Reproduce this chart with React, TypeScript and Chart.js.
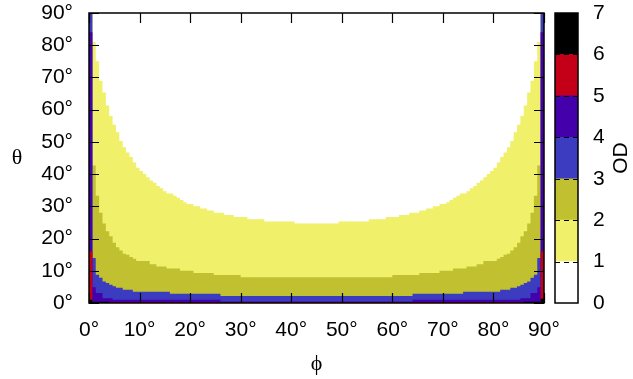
import React, { useEffect, useRef } from "react";
import { Chart, registerables } from "chart.js";
Chart.register(...registerables);

// Boundary contours (theta in degrees) of the OD bands, read column-by-column.
// Each phi value is the left edge of a cell; the theta value holds until the next phi.
const phiOD1 = [0,0.67,1.33,2,2.67,3.33,4,4.67,5.33,6,6.67,7.33,8,8.67,9.33,10,10.67,11.33,12,12.67,13.33,14,14.67,15.33,16.67,17.33,18,18.67,19.33,20.67,22,23.33,24.67,26.67,28.67,31.33,34.67,40.67,49.33,55.33,58.67,61.33,63.33,65.33,66.67,68,69.33,70.67,71.33,72,72.67,73.33,74.67,75.33,76,76.67,77.33,78,78.67,79.33,80,80.67,81.33,82,82.67,83.33,84,84.67,85.33,86,86.67,87.33,88,88.67,89.33,90];
const thetaOD1 = [90,81,75,69,65.3,61.3,58,55.3,53,50.3,48.3,46.7,45.3,43.6,42,41,40,39,38,37.3,36.3,35.6,34.7,34,33.3,32.7,32,31.3,30.7,30,29.3,28.7,28,27.3,26.7,26,25.3,24.7,25.3,26,26.7,27.3,28,28.7,29.3,30,30.7,31.3,32,32.7,33.3,34,34.7,35.6,36.3,37.3,38,39,40,41,42,43.6,45.3,46.7,48.3,50.3,53,55.3,58,61.3,65.3,69,75,81,90,90];

const phiOD2 = [0,0.67,1.33,2,2.67,3.33,4,4.67,5.33,6,6.67,7.33,8,8.67,9.33,12,13.33,15.33,18,20.67,24.67,30,60,65.33,69.33,72,74.67,76.67,78,80.67,81.33,82,82.67,83.33,84,84.67,85.33,86,86.67,87.33,88,88.67,89.33,90];
const thetaOD2 = [90,42.7,33.3,28,24.7,22.3,20.7,18.7,17.3,16.3,15.3,15,14.3,13.7,13,12,11.3,10.7,10,9.3,8.7,8,8.7,9.3,10,10.7,11.3,12,13,13.7,14.3,15,15.3,16.3,17.3,18.7,20.7,22.3,24.7,28,33.3,42.7,90,90];

const phiOD3 = [0,0.67,1.33,2,2.67,3.33,4,4.67,5.33,6.67,8.67,16,26,64,74,81.33,83.33,84.67,85.33,86,86.67,87.33,88,88.67,89.33,90];
const thetaOD3 = [90,14,8.8,7.8,6.7,6.2,5.7,5.2,4.7,4.1,3.5,2.9,2.2,2.9,3.5,4.1,4.7,5.2,5.7,6.2,6.7,7.8,8.8,14,90,90];

const phiOD4 = [0,0.67,1.33,2.67,4.67,26,64,85.33,87.33,88.67,89.33,90];
const thetaOD4 = [84,4.9,3.1,1.5,1.0,0.5,1.0,1.5,3.1,4.9,84,84];

const phiOD5 = [0,0.67,89.33,90];
const thetaOD5 = [16,0.3,16,16];

const phiOD6 = [0,0.67,4,86,89.33,90];
const thetaOD6 = [1.0,0.4,0,0.4,1.3,1.3];

// Colour bar levels
const odLevels = [0,1,2,3,4,5,6,7];
const levelColors = ["#ffffff","#f0f06a","#c0c030","#3b3cc0","#4400aa","#c40018","#000000"];

const angleTicks = [0,10,20,30,40,50,60,70,80,90];

const FONT = "'Liberation Sans', Arial, sans-serif";
const FONT_SIZE = 21;

const bands = [
  { phi: phiOD6, theta: thetaOD6, color: levelColors[6] },
  { phi: phiOD5, theta: thetaOD5, color: levelColors[5] },
  { phi: phiOD4, theta: thetaOD4, color: levelColors[4] },
  { phi: phiOD3, theta: thetaOD3, color: levelColors[3] },
  { phi: phiOD2, theta: thetaOD2, color: levelColors[2] },
  { phi: phiOD1, theta: thetaOD1, color: levelColors[1] },
];

const framePlugin = {
  id: "frameTicks",
  afterDatasetsDraw(chart: any) {
    const { ctx, chartArea } = chart;
    const xs = chart.scales.x;
    const ys = chart.scales.y;
    const L = 10;
    ctx.save();
    ctx.strokeStyle = "#000";
    ctx.lineWidth = 1.2;
    ctx.beginPath();
    for (const v of angleTicks) {
      const px = Math.round(xs.getPixelForValue(v)) + 0.5;
      ctx.moveTo(px, chartArea.bottom);
      ctx.lineTo(px, chartArea.bottom - L);
      ctx.moveTo(px, chartArea.top);
      ctx.lineTo(px, chartArea.top + L);
      const py = Math.round(ys.getPixelForValue(v)) + 0.5;
      ctx.moveTo(chartArea.left, py);
      ctx.lineTo(chartArea.left + L, py);
      ctx.moveTo(chartArea.right, py);
      ctx.lineTo(chartArea.right - L, py);
    }
    ctx.stroke();
    ctx.lineWidth = 1.5;
    ctx.strokeRect(chartArea.left, chartArea.top, chartArea.right - chartArea.left, chartArea.bottom - chartArea.top);
    ctx.restore();
  },
  afterDraw(chart: any) {
    const { ctx, chartArea } = chart;
    ctx.save();
    ctx.fillStyle = "#000";
    ctx.font = "22px 'Liberation Serif', 'DejaVu Serif', serif";
    ctx.textAlign = "center";
    ctx.textBaseline = "middle";
    ctx.fillText("θ", 17, (chartArea.top + chartArea.bottom) / 2);
    ctx.fillText("ϕ", (chartArea.left + chartArea.right) / 2, 364);
    ctx.restore();
  },
};

const cbPlugin = {
  id: "cbFrame",
  afterDatasetsDraw(chart: any) {
    const { ctx, chartArea } = chart;
    const ys = chart.scales.y;
    ctx.save();
    ctx.strokeStyle = "#000";
    ctx.lineWidth = 1;
    ctx.setLineDash([5, 4]);
    ctx.beginPath();
    for (let i = 1; i < odLevels.length - 1; i++) {
      const py = Math.round(ys.getPixelForValue(odLevels[i])) + 0.5;
      ctx.moveTo(chartArea.left, py);
      ctx.lineTo(chartArea.right, py);
    }
    ctx.stroke();
    ctx.setLineDash([]);
    ctx.lineWidth = 1.5;
    ctx.strokeRect(chartArea.left, chartArea.top, chartArea.right - chartArea.left, chartArea.bottom - chartArea.top);
    ctx.restore();
  },
  afterDraw(chart: any) {
    const { ctx, chartArea } = chart;
    ctx.save();
    ctx.fillStyle = "#000";
    ctx.font = FONT_SIZE + "px " + FONT;
    ctx.textAlign = "center";
    ctx.textBaseline = "middle";
    ctx.translate(81, (chartArea.top + chartArea.bottom) / 2);
    ctx.rotate(-Math.PI / 2);
    ctx.fillText("OD", 0, 0);
    ctx.restore();
  },
};

export default function App() {
  const mainRef = useRef<HTMLCanvasElement | null>(null);
  const cbRef = useRef<HTMLCanvasElement | null>(null);

  useEffect(() => {
    const tickFont = { family: FONT, size: FONT_SIZE };
    const main = new Chart(mainRef.current as HTMLCanvasElement, {
      type: "line",
      data: {
        datasets: bands.map((b) => ({
          data: b.phi.map((p, i) => ({ x: p, y: b.theta[i] })),
          stepped: true,
          fill: "origin",
          backgroundColor: b.color,
          borderColor: "rgba(0,0,0,0)",
          borderWidth: 0,
          pointRadius: 0,
          pointHoverRadius: 0,
        })),
      },
      options: {
        responsive: false,
        animation: false,
        events: [],
        layout: { padding: { top: 13, right: 89, left: 0, bottom: 0 } },
        plugins: { legend: { display: false }, tooltip: { enabled: false } },
        scales: {
          x: {
            type: "linear",
            min: 0,
            max: 90,
            ticks: {
              stepSize: 10,
              autoSkip: false,
              maxRotation: 0,
              color: "#000",
              font: tickFont,
              padding: 15,
              callback: (v: any) => v + "°",
            },
            grid: { display: false, drawTicks: false },
            border: { display: false },
            afterFit: (s: any) => {
              s.height = 76;
              s.paddingLeft = 0;
              s.paddingRight = 0;
            },
          },
          y: {
            type: "linear",
            min: 0,
            max: 90,
            ticks: {
              stepSize: 10,
              autoSkip: false,
              color: "#000",
              font: tickFont,
              padding: 16,
              callback: (v: any) => v + "°",
            },
            grid: { display: false, drawTicks: false },
            border: { display: false },
            afterFit: (s: any) => {
              s.width = 89;
              s.paddingTop = 0;
              s.paddingBottom = 0;
            },
          },
        },
      } as any,
      plugins: [framePlugin],
    });

    const cb = new Chart(cbRef.current as HTMLCanvasElement, {
      type: "bar",
      data: {
        labels: ["OD"],
        datasets: levelColors.map((c, i) => ({
          data: [[odLevels[i], odLevels[i + 1]]] as any,
          backgroundColor: c,
          borderWidth: 0,
          barPercentage: 1,
          categoryPercentage: 1,
          grouped: false,
        })),
      },
      options: {
        responsive: false,
        animation: false,
        events: [],
        layout: { padding: { top: 13, right: 0, left: 15, bottom: 76 } },
        plugins: { legend: { display: false }, tooltip: { enabled: false } },
        scales: {
          x: { display: false },
          y: {
            position: "right",
            min: 0,
            max: 7,
            ticks: { stepSize: 1, color: "#000", font: tickFont, padding: 15 },
            grid: { display: false, drawTicks: false },
            border: { display: false },
            afterFit: (s: any) => {
              s.width = 55;
              s.paddingTop = 0;
              s.paddingBottom = 0;
            },
          },
        },
      } as any,
      plugins: [cbPlugin],
    });

    return () => {
      main.destroy();
      cb.destroy();
    };
  }, []);

  return (
    <div style={{ position: "fixed", left: 0, top: 0, width: 633, height: 379, background: "#fff" }}>
      <canvas ref={mainRef} width={633} height={379} style={{ position: "absolute", left: 0, top: 0 }} />
      <canvas ref={cbRef} width={93} height={379} style={{ position: "absolute", left: 540, top: 0 }} />
    </div>
  );
}
